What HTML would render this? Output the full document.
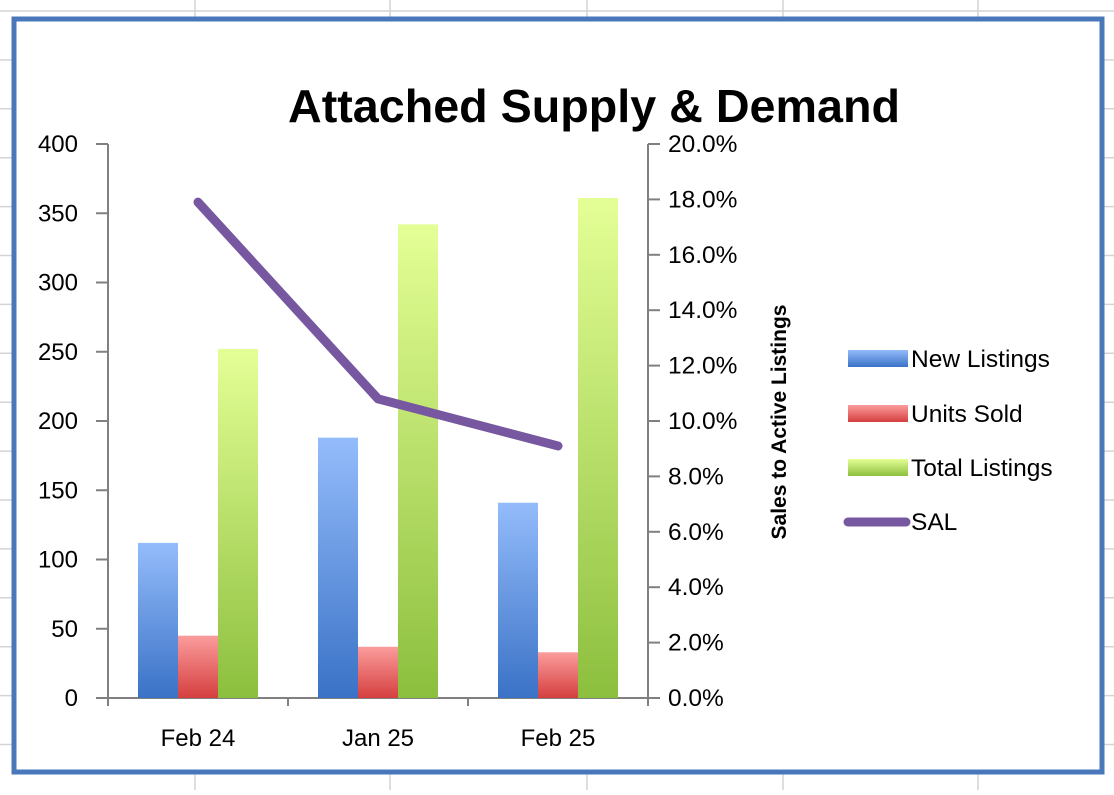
<!DOCTYPE html>
<html><head><meta charset="utf-8"><style>
body{margin:0;width:1114px;height:790px;overflow:hidden;background:#fff;font-family:"Liberation Sans",sans-serif}
</style></head><body>
<svg id="c" width="1114" height="790" xmlns="http://www.w3.org/2000/svg">
<defs>
<linearGradient id="gb" x1="0" y1="0" x2="0" y2="1"><stop offset="0" stop-color="#94bcfb"/><stop offset="1" stop-color="#3a72c6"/></linearGradient>
<linearGradient id="gr" x1="0" y1="0" x2="0" y2="1"><stop offset="0" stop-color="#fb9c9c"/><stop offset="1" stop-color="#d53f3f"/></linearGradient>
<linearGradient id="gg" x1="0" y1="0" x2="0" y2="1"><stop offset="0" stop-color="#e4ff96"/><stop offset="1" stop-color="#8cbf3e"/></linearGradient>
</defs>
<g id="grid"></g>
<rect x="14" y="19" width="1088" height="753" fill="#fff" stroke="#4a77b9" stroke-width="5"/>
<text x="594" y="122" text-anchor="middle" font-size="46" font-weight="bold" textLength="612" lengthAdjust="spacingAndGlyphs">Attached Supply &amp; Demand</text>
<g id="plot"></g>
<text transform="translate(786,422) rotate(-90)" text-anchor="middle" font-size="21" font-weight="bold">Sales to Active Listings</text>
<g id="legend">
<rect x="848" y="350" width="60" height="17" fill="url(#gb)"/>
<text x="911" y="367" font-size="24.5">New Listings</text>
<rect x="848" y="405" width="60" height="17" fill="url(#gr)"/>
<text x="911" y="422" font-size="24.5">Units Sold</text>
<rect x="848" y="459" width="60" height="17" fill="url(#gg)"/>
<text x="911" y="476" font-size="24.5">Total Listings</text>
<line x1="848" y1="522" x2="906" y2="522" stroke="#7757a0" stroke-width="9" stroke-linecap="round"/>
<text x="911" y="530" font-size="24.5">SAL</text>
</g>
</svg>
<script>
const categories=["Feb 24","Jan 25","Feb 25"];
const newListings=[112,188,141];
const unitsSold=[45,37,33];
const totalListings=[252,342,361];
const sal=[17.9,10.8,9.1];
const leftTicks=[0,50,100,150,200,250,300,350,400];
const rightTicks=[0,2,4,6,8,10,12,14,16,18,20];
const NS="http://www.w3.org/2000/svg";
const X0=108,X1=648,Y0=698,Y1=144;
const yL=v=>Y0-(v/400)*(Y0-Y1);
const yR=v=>Y0-(v/20)*(Y0-Y1);
const cw=(X1-X0)/categories.length;
const cx=i=>X0+cw*(i+0.5);
function mk(t,a,p){const e=document.createElementNS(NS,t);for(const k in a)e.setAttribute(k,a[k]);(p||document.getElementById('plot')).appendChild(e);return e;}
const g=document.getElementById('grid');
[195,390,587,783,978].forEach(x=>{const l=mk('line',{x1:x,y1:0,x2:x,y2:790,stroke:'#d4d4d4','stroke-width':1.5},g);

});
for(let i=0;i<17;i++){const y=11+i*48.9;const l=mk('line',{x1:0,y1:y,x2:1114,y2:y,stroke:'#d4d4d4','stroke-width':1.5},g);

}
let a=mk('line',{x1:X0,y1:Y1,x2:X0,y2:Y0+6,stroke:'#808080','stroke-width':2});


a=mk('line',{x1:X1,y1:Y1,x2:X1,y2:Y0+6,stroke:'#808080','stroke-width':2});


a=mk('line',{x1:X0,y1:Y0,x2:X1,y2:Y0,stroke:'#808080','stroke-width':2});


leftTicks.forEach(v=>{const y=yL(v);
const t=mk('line',{x1:X0-12,y1:y,x2:X0,y2:y,stroke:'#808080','stroke-width':2});


const l=mk('text',{x:78,y:y+8,'text-anchor':'end','font-size':24});l.textContent=v;

});
rightTicks.forEach(v=>{const y=yR(v);
const t=mk('line',{x1:X1,y1:y,x2:X1+12,y2:y,stroke:'#808080','stroke-width':2});


const l=mk('text',{x:668,y:y+8,'font-size':24.5});l.textContent=v.toFixed(1)+'%';

});
for(let i=0;i<=categories.length;i++){const x=X0+cw*i;
const t=mk('line',{x1:x,y1:Y0,x2:x,y2:Y0+8,stroke:'#808080','stroke-width':2});

}
const bw=40;
const series=[[newListings,'url(#gb)','bar-new-listings'],[unitsSold,'url(#gr)','bar-units-sold'],[totalListings,'url(#gg)','bar-total-listings']];
categories.forEach((c,i)=>{
 series.forEach((s,j)=>{const v=s[0][i];const x=cx(i)-1.5*bw+j*bw;
  const r=mk('rect',{x:x,y:yL(v),width:bw,height:Y0-yL(v),fill:s[1]});
  
  });
 const l=mk('text',{x:cx(i),y:746,'text-anchor':'middle','font-size':24});l.textContent=c;
 
 
});
const line=mk('polyline',{points:sal.map((v,i)=>cx(i)+','+yR(v)).join(' '),fill:'none',stroke:'#7757a0','stroke-width':9,'stroke-linecap':'round','stroke-linejoin':'round'});


</script>
</body></html>
